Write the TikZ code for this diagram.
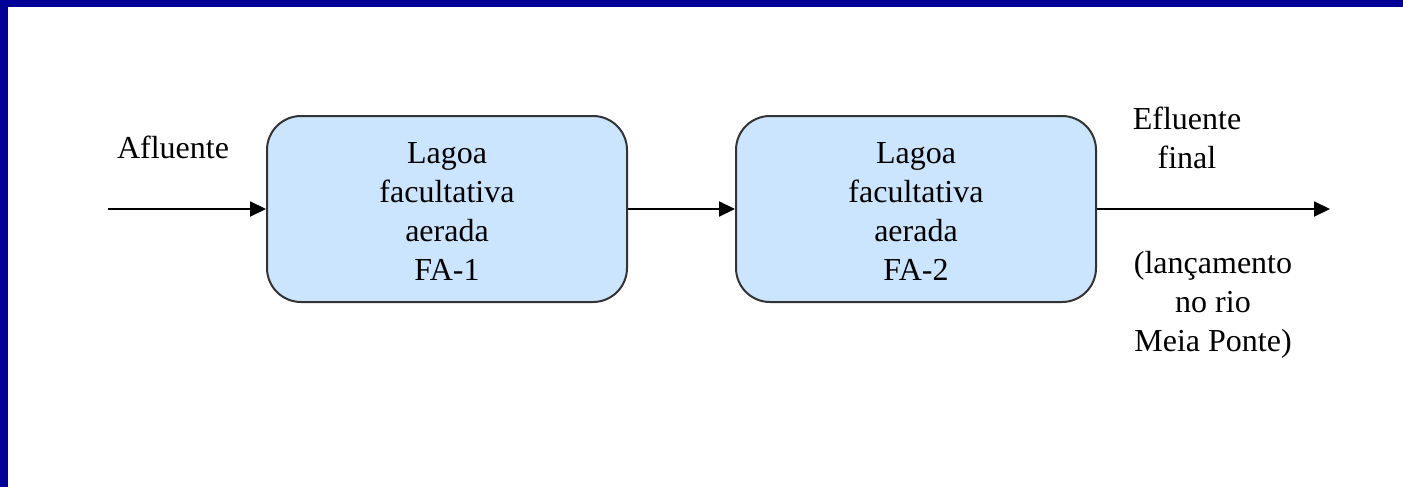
\documentclass[tikz,border=0pt]{standalone}
\usepackage{fontspec}
\setmainfont{Liberation Serif}
\usetikzlibrary{arrows.meta}
\definecolor{framebar}{HTML}{000099}
\definecolor{boxfill}{HTML}{CCE5FF}
\definecolor{boxline}{HTML}{333333}
\begin{document}
\begin{tikzpicture}[x=0.5pt,y=-0.5pt,
  lagoa/.style={draw=boxline,line width=1pt,fill=boxfill,rounded corners=17pt,
    minimum width=180pt,minimum height=93pt,inner sep=0pt},
  lbl/.style={align=center,inner sep=0pt,font=\fontsize{16}{19.5}\selectfont},
  flow/.style={line width=1.1pt,-{Triangle[length=8pt,width=7.5pt]}}]
\useasboundingbox (0,0) rectangle (1403,487);
\fill[white] (0,0) rectangle (1403,487);
\fill[framebar] (0,0) rectangle (1403,7);
\fill[framebar] (0,0) rectangle (8,487);
\node[lagoa] (fa1) at (447,209) {};
\node[lbl] (fa1t) at (447,212) {Lagoa\\facultativa\\aerada\\FA-1};
\node[lagoa] (fa2) at (916,209) {};
\node[lbl] (fa2t) at (916,212) {Lagoa\\facultativa\\aerada\\FA-2};
\coordinate (in) at (108,209);
\coordinate (out) at (1330,209);
\node[lbl,anchor=base] (afl) at (173,158) {Afluente};
\node[lbl] (efl) at (1187,138) {Efluente\\final};
\node[lbl] (lanc) at (1213,305) {(lançamento\\no rio\\Meia Ponte)};
\draw[flow] (in) -- (fa1.west);
\draw[flow] (fa1.east) -- (fa2.west);
\draw[flow] (fa2.east) -- (out);
\end{tikzpicture}
\end{document}
